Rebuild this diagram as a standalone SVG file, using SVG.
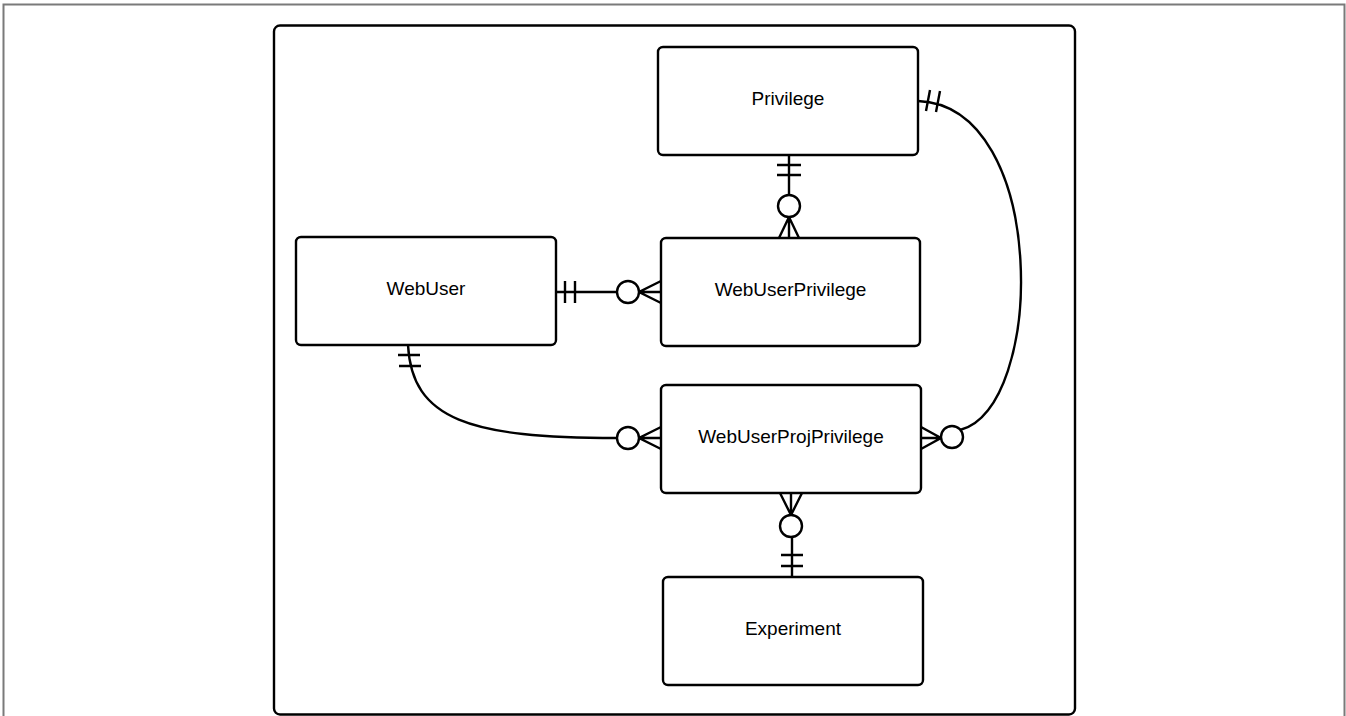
<svg xmlns="http://www.w3.org/2000/svg" width="1346" height="716" viewBox="0 0 1346 716">
<style>
.ent{fill:#fff;stroke:#000;stroke-width:2.4}
.lbl{font-family:"Liberation Sans",Arial,sans-serif;font-size:19px;fill:#000;text-anchor:middle}
.c{fill:none;stroke:#000;stroke-width:2.4}
.o{fill:#fff;stroke:#000;stroke-width:2.4}
</style>
<rect width="1346" height="716" fill="#fff"/>
<path d="M3.5,720 V4.5 H1344.5 V720" fill="none" stroke="#7a7a7a" stroke-width="2"/>
<rect x="274" y="25.5" width="801" height="689" rx="6" fill="#fff" stroke="#000" stroke-width="2.4"/>
<g id="connectors">
  <g id="c-priv-wup">
    <path class="c" d="M789,155 V195 M777,165 H801 M777,175 H801 M779,238 L789,217 L799,238 M789,217 V238"/>
    <circle class="o" cx="789" cy="206" r="11"/>
  </g>
  <g id="c-wu-wup">
    <path class="c" d="M556,292 H617 M565,281 V303 M575,281 V303 M661,281 L639,292 L661,303 M639,292 H661"/>
    <circle class="o" cx="628" cy="292" r="11"/>
  </g>
  <g id="c-wu-wupp">
    <path class="c" d="M408,345 C412,420 470,438 617,438 M398,355 H420 M399,366 H421 M661,427 L639,438 L661,449 M639,438 H661"/>
    <circle class="o" cx="628" cy="438" r="11"/>
  </g>
  <g id="c-priv-wupp">
    <path class="c" d="M918,101 C1050,106 1045,410 960,430 M926,111 L930,90 M936,112 L940,91 M921,427 L941,438 L921,449 M921,438 H941"/>
    <circle class="o" cx="952" cy="437" r="11"/>
  </g>
  <g id="c-wupp-exp">
    <path class="c" d="M792,537 V577 M781,555 H803 M781,566 H803 M780,493 L791,515 L802,493 M791,493 V515"/>
    <circle class="o" cx="791" cy="526" r="11"/>
  </g>
</g>
<g id="privilege"><rect class="ent" x="658" y="47" width="260" height="108" rx="5"/><text class="lbl" x="788" y="104.5">Privilege</text></g>
<g id="webuserprivilege"><rect class="ent" x="661" y="238" width="259" height="108" rx="5"/><text class="lbl" x="790.5" y="295.5">WebUserPrivilege</text></g>
<g id="webuser"><rect class="ent" x="296" y="237" width="260" height="108" rx="5"/><text class="lbl" x="426" y="294.5">WebUser</text></g>
<g id="webuserprojprivilege"><rect class="ent" x="661" y="385" width="260" height="108" rx="5"/><text class="lbl" x="791" y="442.5">WebUserProjPrivilege</text></g>
<g id="experiment"><rect class="ent" x="663" y="577" width="260" height="108" rx="5"/><text class="lbl" x="793" y="634.5">Experiment</text></g>
</svg>
